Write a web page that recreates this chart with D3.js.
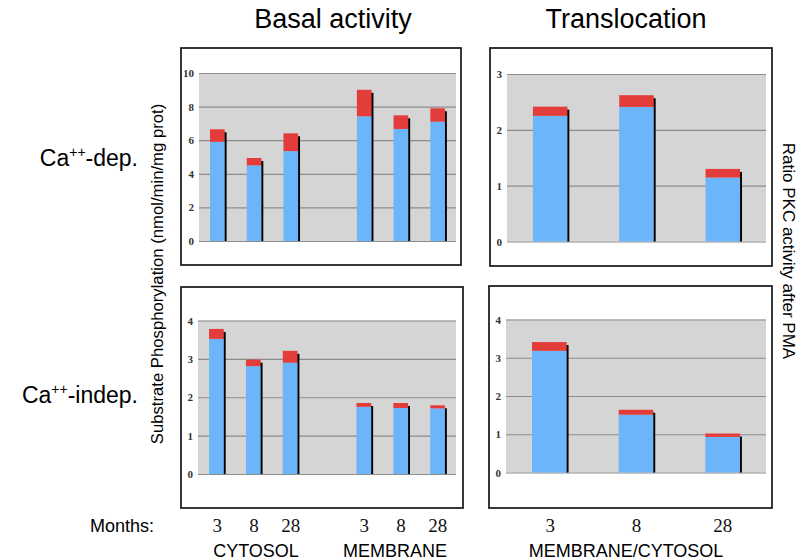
<!DOCTYPE html>
<html lang="en">
<head>
	<meta charset="utf-8">
	<title>PKC basal activity and translocation</title>
	<script src="https://cdn.jsdelivr.net/npm/d3@7"></script>
	<style>
		body { margin: 0; background: #fff; }
		svg { display: block; }
	</style>
</head>
<body>
<script type="text/javascript">

	// Categories (months, per fraction)
	var basalKeys = ["C3", "C8", "C28", "M3", "M8", "M28"];
	var transKeys = ["T3", "T8", "T28"];
	var monthLabels = {C3: "3", C8: "8", C28: "28", M3: "3", M8: "8", M28: "28", T3: "3", T8: "8", T28: "28"};

	// Ca++-dependent: blue part and red part stacked on top
	var depBasalBlue = [5.9, 4.5, 5.35, 7.42, 6.67, 7.1];
	var depBasalRed  = [0.75, 0.44, 1.06, 1.58, 0.81, 0.8];
	var depTransBlue = [2.25, 2.41, 1.145];
	var depTransRed  = [0.165, 0.21, 0.155];

	// Ca++-independent
	var indBasalBlue = [3.52, 2.81, 2.9, 1.75, 1.72, 1.71];
	var indBasalRed  = [0.26, 0.17, 0.31, 0.1, 0.13, 0.08];
	var indTransBlue = [3.18, 1.51, 0.93];
	var indTransRed  = [0.23, 0.13, 0.09];

	// Tick values of the y axes
	var depBasalTicks = [0, 2, 4, 6, 8, 10];
	var depTransTicks = [0, 1, 2, 3];
	var indTicks = [0, 1, 2, 3, 4];

	var width = 800, height = 560;

	var svg = d3.select("body")
				.append("svg")
				.attr("width", width)
				.attr("height", height);

	// domain of the basal panels has an empty slot between cytosol and membrane
	var basalDomain = basalKeys.slice(0, 3).concat(["gap"], basalKeys.slice(3));

	// Draw one boxed bar chart
	function drawPanel(p){

		var g = svg.append("g");

		// outer box
		g.append("rect")
			.attr("x", p.box[0])
			.attr("y", p.box[1])
			.attr("width", p.box[2] - p.box[0])
			.attr("height", p.box[3] - p.box[1])
			.attr("fill", "#fff")
			.attr("stroke", "#222")
			.attr("stroke-width", 1.8);

		var yMax = d3.max(p.ticks);

		var yScale = d3.scaleLinear()
						.domain([0, yMax])
						.range([p.y1, p.y0]);

		var xScale = d3.scaleBand()
						.domain(p.domain)
						.range([p.x0, p.x1])
						.paddingInner(0.6)
						.paddingOuter(0.3);

		// gray plot area
		g.append("rect")
			.attr("x", p.x0)
			.attr("y", yScale(yMax))
			.attr("width", p.x1 - p.x0)
			.attr("height", yScale(0) - yScale(yMax))
			.attr("fill", "#d5d5d5");

		// grid lines + tick labels
		var yAxis = d3.axisLeft(yScale)
						.tickValues(p.ticks)
						.tickSize(-(p.x1 - p.x0))
						.tickPadding(5)
						.tickFormat(d3.format("d"));

		var ya = g.append("g")
			.attr("transform", "translate(" + p.x0 + ",0)")
			.call(yAxis);
		ya.select(".domain").remove();
		ya.selectAll("line")
			.attr("stroke", "#8c8c8c")
			.attr("stroke-width", 1.2);
		ya.selectAll("text")
			.style("font-family", "'Liberation Serif', 'DejaVu Serif', serif")
			.style("font-size", "11px")
			.style("font-weight", "bold")
			.attr("fill", "#333");

		var rows = p.keys.map(function(k, i){
			return {key: k, blue: p.blue[i], red: p.red[i]};
		});

		var bw = xScale.bandwidth();

		// black shadow line on the right side of each bar
		g.selectAll(".shadow")
			.data(rows)
			.enter()
				.append("rect")
				.attr("x", function(d){ return xScale(d.key) + bw - 0.7; })
				.attr("y", function(d){ return yScale(d.blue + d.red) + 3; })
				.attr("width", 2.6)
				.attr("height", function(d){ return yScale(0) - yScale(d.blue + d.red) - 3; })
				.attr("fill", "#000");

		// blue part
		g.selectAll(".blue")
			.data(rows)
			.enter()
				.append("rect")
				.attr("x", function(d){ return xScale(d.key); })
				.attr("y", function(d){ return yScale(d.blue); })
				.attr("width", bw)
				.attr("height", function(d){ return yScale(0) - yScale(d.blue); })
				.attr("fill", "#6cb5fb");

		// red part on top
		g.selectAll(".red")
			.data(rows)
			.enter()
				.append("rect")
				.attr("x", function(d){ return xScale(d.key); })
				.attr("y", function(d){ return yScale(d.blue + d.red); })
				.attr("width", bw)
				.attr("height", function(d){ return yScale(d.blue) - yScale(d.blue + d.red); })
				.attr("fill", "#e33d3b");

		return xScale;
	}

	var xBasal = drawPanel({box: [181, 48, 461, 265], x0: 199, x1: 456, y0: 73, y1: 241,
		domain: basalDomain, keys: basalKeys, blue: depBasalBlue, red: depBasalRed, ticks: depBasalTicks});

	var xTrans = drawPanel({box: [490, 48, 772, 266], x0: 507, x1: 766, y0: 74, y1: 241.5,
		domain: transKeys, keys: transKeys, blue: depTransBlue, red: depTransRed, ticks: depTransTicks});

	drawPanel({box: [181, 287, 463, 508], x0: 198, x1: 456, y0: 320.5, y1: 474,
		domain: basalDomain, keys: basalKeys, blue: indBasalBlue, red: indBasalRed, ticks: indTicks});

	drawPanel({box: [489, 286, 772, 508], x0: 506, x1: 766, y0: 319.5, y1: 472.5,
		domain: transKeys, keys: transKeys, blue: indTransBlue, red: indTransRed, ticks: indTicks});

	// month tick labels under the panels
	function monthAxis(xScale){
		var ax = d3.axisBottom(xScale)
					.tickValues(xScale.domain().filter(function(k){ return k !== "gap"; }))
					.tickSize(0)
					.tickPadding(0)
					.tickFormat(function(k){ return monthLabels[k]; });
		var a = svg.append("g")
			.attr("transform", "translate(0,518)")
			.call(ax);
		a.select(".domain").remove();
		a.selectAll("text")
			.style("font-family", "'Liberation Serif', serif")
			.style("font-size", "19px")
			.attr("fill", "#111");
	}
	monthAxis(xBasal);
	monthAxis(xTrans);

	var sans = "'Liberation Sans', Arial, sans-serif";

	// Column titles
	svg.append("text")
		.attr("x", 333).attr("y", 28)
		.attr("text-anchor", "middle")
		.attr("font-family", sans).attr("font-size", 27)
		.text("Basal activity");

	svg.append("text")
		.attr("x", 626).attr("y", 28)
		.attr("text-anchor", "middle")
		.attr("font-family", sans).attr("font-size", 27)
		.text("Translocation");

	// Row labels with superscript ++
	function rowLabel(y, rest){
		var t = svg.append("text")
			.attr("x", 138).attr("y", y)
			.attr("text-anchor", "end")
			.attr("font-family", sans).attr("font-size", 23);
		t.append("tspan").text("Ca");
		t.append("tspan").attr("font-size", 14).attr("dy", -9).text("++");
		t.append("tspan").attr("dy", 9).text(rest);
	}
	rowLabel(166, "-dep.");
	rowLabel(403, "-indep.");

	// Axis titles
	svg.append("text")
		.attr("transform", "translate(163,274) rotate(-90)")
		.attr("text-anchor", "middle")
		.attr("font-family", sans).attr("font-size", 16.7)
		.text("Substrate Phosphorylation (nmol/min/mg prot)");

	svg.append("text")
		.attr("transform", "translate(783,251) rotate(90)")
		.attr("text-anchor", "middle")
		.attr("font-family", sans).attr("font-size", 17)
		.text("Ratio PKC activity after PMA");

	// Bottom labels
	svg.append("text")
		.attr("x", 90).attr("y", 532)
		.attr("font-family", sans).attr("font-size", 18)
		.text("Months:");

	var fractions = [["CYTOSOL", 256], ["MEMBRANE", 395], ["MEMBRANE/CYTOSOL", 626]];
	svg.selectAll(".frac")
		.data(fractions)
		.enter()
			.append("text")
			.attr("x", function(d){ return d[1]; })
			.attr("y", 557)
			.attr("text-anchor", "middle")
			.attr("font-family", sans).attr("font-size", 18)
			.text(function(d){ return d[0]; });

</script>
</body>
</html>
